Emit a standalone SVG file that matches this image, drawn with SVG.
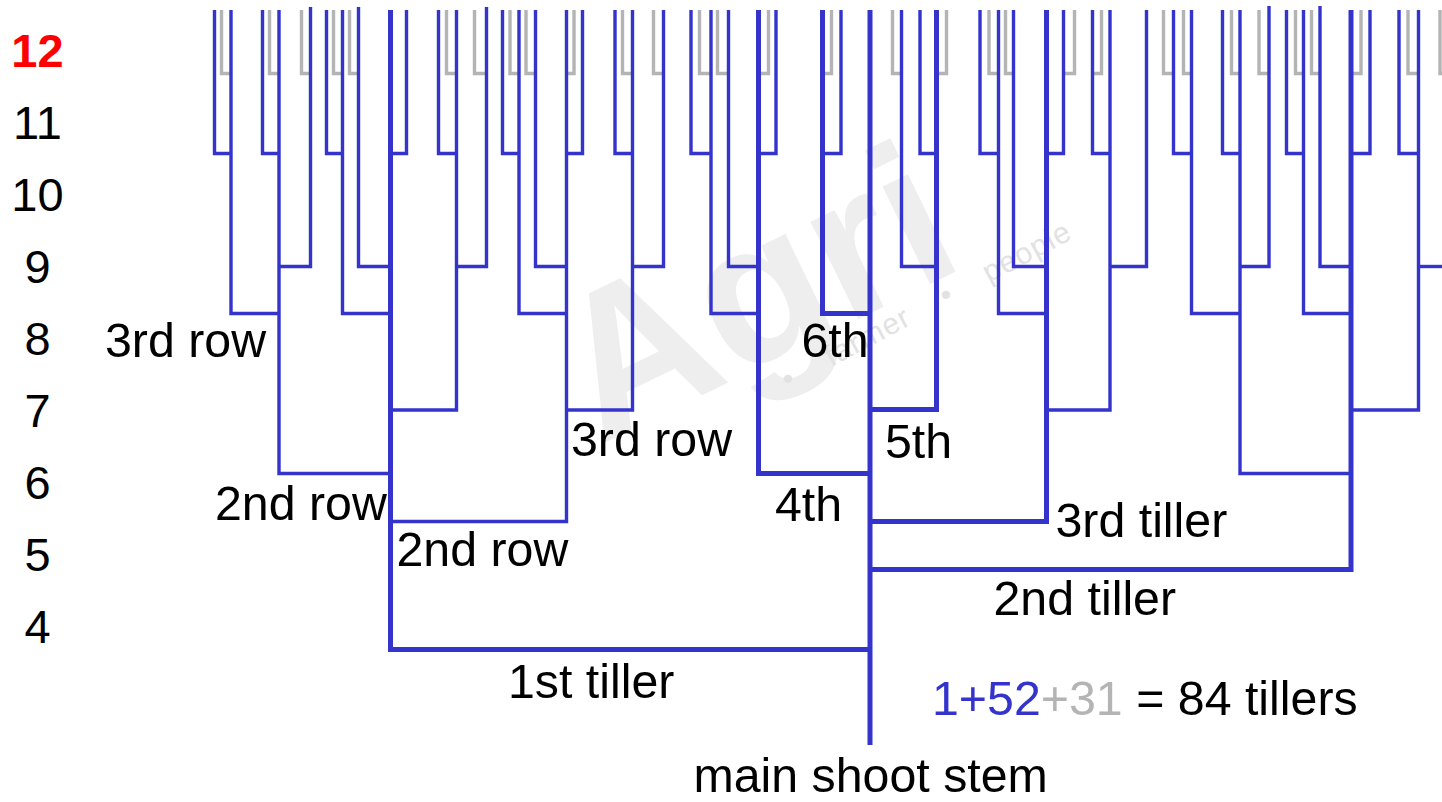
<svg xmlns="http://www.w3.org/2000/svg" width="1442" height="802" viewBox="0 0 1442 802">
<style>
.b{fill:none;stroke:#3434cc;stroke-width:3.4;stroke-linejoin:miter}
.p{fill:none;stroke:#3434cc;stroke-width:5;stroke-linejoin:miter}
.g{fill:none;stroke:#b4b4b4;stroke-width:3.4}
text{font-family:"Liberation Sans",Arial,sans-serif;font-size:48.3px;fill:#000}
.num{text-anchor:middle;font-size:47px}
</style>
<rect width="1442" height="802" fill="#fff"/>
<g id="watermark">
<text transform="translate(600,445) rotate(-26)" style="font-size:205px;font-weight:bold;fill:#eeeeee">Agri</text>
<text transform="translate(788,390) rotate(-28)" style="font-size:30px;fill:#e2e2e2;letter-spacing:1px" xml:space="preserve">•    farmer    •    people</text>
</g>
<g id="grey-tillers" class="g">
<path d="M221.5,10V73.5H231"/><path d="M269.5,10V73.5H279"/><path d="M301.5,10V73.5H310.5"/>
<path d="M333.5,10V73.5H342.5"/><path d="M349.5,10V73.5H358.5"/><path d="M446.5,10V73.5H456.5"/>
<path d="M474.5,10V73.5H486.5"/><path d="M510,10V73.5H519"/><path d="M526,10V73.5H535.5"/>
<path d="M574,10V73.5H566.5"/><path d="M622.5,10V73.5H632.5"/><path d="M653.5,10V73.5H663.5"/>
<path d="M699.5,10V73.5H711"/><path d="M717.5,10V73.5H728.5"/><path d="M768.5,10V73.5H758.5"/>
<path d="M831.5,10V73.5H822.5"/><path d="M892.5,10V73.5H901.5"/><path d="M946.5,10V73.5H936.5"/>
<path d="M989,10V73.5H998.5"/><path d="M1005.5,10V73.5H1013.5"/><path d="M1074.5,10V73.5H1063.5"/>
<path d="M1101.5,10V73.5H1092.5"/><path d="M1163.5,10V73.5H1173.5"/><path d="M1183.5,10V73.5H1191.5"/>
<path d="M1231.5,10V73.5H1240"/><path d="M1259,10V73.5H1269"/><path d="M1295.5,10V73.5H1303.5"/>
<path d="M1311.5,10V73.5H1320"/><path d="M1361,10V73.5H1351"/><path d="M1408,10V73.5H1418.5"/>
<path d="M1440,10V73.5H1444"/>
</g>
<g id="tiller1-branches" class="b">
<path d="M214.5,10V153.5H231"/><path d="M231,10V313.5H279"/><path d="M262.5,10V153.5H279"/>
<path d="M279,10V473.5H390.5"/><path d="M310.5,7V266.5H279"/><path d="M326.5,10V153.5H342.5"/>
<path d="M342.5,10V313.5H390.5"/><path d="M358.5,7V266.5H390.5"/><path d="M406.5,10V153.5H390.5"/>
<path d="M438.5,10V153.5H456.5"/><path d="M456.5,10V410H390.5"/><path d="M486.5,7V266.5H456.5"/>
<path d="M502.5,10V153.5H519"/><path d="M519,10V313.5H566.5"/><path d="M535.5,10V266.5H566.5"/>
<path d="M566.5,10V521.5H390.5"/><path d="M582.5,10V153.5H566.5"/><path d="M615,10V153.5H632.5"/>
<path d="M632.5,10V410H566.5"/><path d="M663.5,10V266.5H632.5"/>
</g>
<g id="tiller4-branches" class="b">
<path d="M691,10V153.5H711"/><path d="M711,10V313.5H758.5"/><path d="M728.5,10V266.5H758.5"/><path d="M776,10V153.5H758.5"/>
</g>
<g id="tiller6-branches" class="b"><path d="M841,10V153.5H822.5"/></g>
<g id="tiller5-branches" class="b"><path d="M901.5,10V266.5H936.5"/><path d="M920,10V153.5H936.5"/></g>
<g id="tiller3-branches" class="b">
<path d="M980,10V153.5H998.5"/><path d="M998.5,10V313.5H1046.5"/><path d="M1013.5,10V266.5H1046.5"/>
<path d="M1063.5,10V153.5H1046.5"/><path d="M1092.5,10V153.5H1110"/><path d="M1110,10V410H1046.5"/>
<path d="M1146.5,10V266.5H1110"/>
</g>
<g id="tiller2-branches" class="b">
<path d="M1173.5,10V153.5H1191.5"/><path d="M1191.5,10V313.5H1240"/><path d="M1222.5,10V153.5H1240"/>
<path d="M1240,10V473.5H1351"/><path d="M1269,6V266.5H1240"/><path d="M1286.5,10V153.5H1303.5"/>
<path d="M1303.5,10V313.5H1351"/><path d="M1320,6V266.5H1351"/><path d="M1370,10V153.5H1351"/>
<path d="M1399,10V153.5H1418.5"/><path d="M1418.5,10V410H1351"/><path d="M1418.5,266.5H1444"/>
</g>
<g id="primary-tillers" class="p">
<path id="tiller-1" d="M390.5,10V649.5H870"/>
<path id="tiller-2" d="M1351,10V569.5H870"/>
<path id="tiller-3" d="M1046.5,10V521.5H870"/>
<path id="tiller-4" d="M758.5,10V473.5H870"/>
<path id="tiller-5" d="M936.5,10V409.5H870"/>
<path id="tiller-6" d="M822.5,10V313.5H870"/>
<path id="main-stem" d="M870,10V745"/>
</g>
<g id="leaf-scale">
<text class="num" x="37.5" y="67" style="fill:#ff0000;font-weight:bold">12</text>
<text class="num" x="37.5" y="139">11</text>
<text class="num" x="37.5" y="211">10</text>
<text class="num" x="37.5" y="283">9</text>
<text class="num" x="37.5" y="355">8</text>
<text class="num" x="37.5" y="427">7</text>
<text class="num" x="37.5" y="499">6</text>
<text class="num" x="37.5" y="571">5</text>
<text class="num" x="37.5" y="643">4</text>
</g>
<g id="labels">
<text x="105" y="357">3rd row</text>
<text x="215" y="520">2nd row</text>
<text x="396.5" y="566">2nd row</text>
<text x="571" y="456">3rd row</text>
<text x="801.5" y="357">6th</text>
<text x="885" y="458">5th</text>
<text x="775" y="520.5">4th</text>
<text x="1055.5" y="537">3rd tiller</text>
<text x="993.5" y="615">2nd tiller</text>
<text x="508" y="698">1st tiller</text>
<text x="932" y="715"><tspan fill="#3434cc">1+52</tspan><tspan fill="#b4b4b4">+31</tspan> = 84 tillers</text>
<text x="693.5" y="792">main shoot stem</text>
</g>
</svg>
